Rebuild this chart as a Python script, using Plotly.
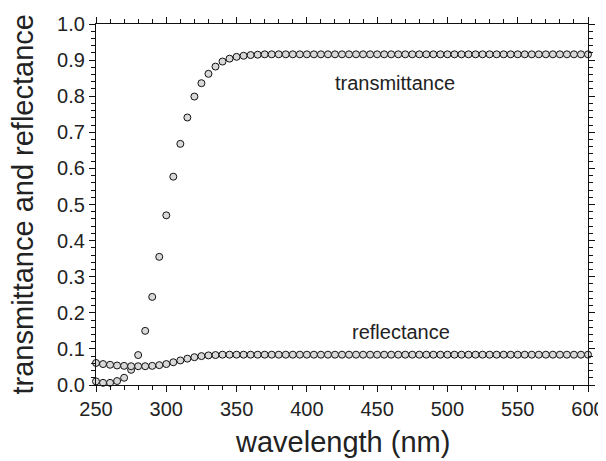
import plotly.graph_objects as go

wavelength = list(range(250, 605, 5))

transmittance = [
    0.010, 0.006, 0.006, 0.011, 0.020, 0.042, 0.083, 0.150, 0.244, 0.355,
    0.470, 0.577, 0.668, 0.741, 0.799, 0.836, 0.862, 0.882, 0.896, 0.904,
    0.909, 0.912, 0.914, 0.915, 0.916, 0.916, 0.916, 0.916, 0.916, 0.916,
    0.916, 0.916, 0.916, 0.916, 0.916, 0.916, 0.916, 0.916, 0.916, 0.916,
    0.916, 0.916, 0.916, 0.916, 0.916, 0.916, 0.916, 0.916, 0.916, 0.916,
    0.916, 0.916, 0.916, 0.916, 0.916, 0.916, 0.916, 0.916, 0.916, 0.916,
    0.916, 0.916, 0.916, 0.916, 0.916, 0.916, 0.916, 0.916, 0.916, 0.916,
    0.916,
]

reflectance = [
    0.061, 0.058, 0.056, 0.054, 0.053, 0.052, 0.052, 0.052, 0.053, 0.055,
    0.058, 0.063, 0.068, 0.073, 0.077, 0.080, 0.082, 0.083, 0.084, 0.084,
    0.084, 0.084, 0.084, 0.084, 0.084, 0.084, 0.084, 0.084, 0.084, 0.084,
    0.084, 0.084, 0.084, 0.084, 0.084, 0.084, 0.084, 0.084, 0.084, 0.084,
    0.084, 0.084, 0.084, 0.084, 0.084, 0.084, 0.084, 0.084, 0.084, 0.084,
    0.084, 0.084, 0.084, 0.084, 0.084, 0.084, 0.084, 0.084, 0.084, 0.084,
    0.084, 0.084, 0.084, 0.084, 0.084, 0.084, 0.084, 0.084, 0.084, 0.084,
    0.084,
]

x_ticks = [250, 300, 350, 400, 450, 500, 550, 600]
y_ticks = [0.0, 0.1, 0.2, 0.3, 0.4, 0.5, 0.6, 0.7, 0.8, 0.9, 1.0]

font_family = "Liberation Sans, Arial, sans-serif"
text_color = "#222222"
marker = dict(symbol="circle", size=7, color="#d9d9d9",
              line=dict(color="#111111", width=1))

fig = go.Figure()
fig.add_trace(go.Scatter(x=wavelength, y=transmittance, mode="markers",
                         marker=marker, name="transmittance", cliponaxis=False))
fig.add_trace(go.Scatter(x=wavelength, y=reflectance, mode="markers",
                         marker=marker, name="reflectance", cliponaxis=False))

fig.add_annotation(x=463, y=0.837, text="transmittance", showarrow=False,
                   font=dict(family=font_family, size=20, color=text_color))
fig.add_annotation(x=467, y=0.146, text="reflectance", showarrow=False,
                   font=dict(family=font_family, size=20, color=text_color))

# axis titles as paper-positioned text
fig.add_annotation(xref="paper", yref="paper", x=0.5, y=0, yshift=-57,
                   yanchor="middle", xanchor="center", text="wavelength (nm)",
                   showarrow=False,
                   font=dict(family=font_family, size=29, color=text_color))
fig.add_annotation(xref="paper", yref="paper", x=0, xshift=-74, y=0.5,
                   xanchor="center", yanchor="middle", textangle=-90,
                   text="transmittance and reflectance", showarrow=False,
                   font=dict(family=font_family, size=29, color=text_color))

axis_common = dict(
    showline=True, linecolor="#111111", linewidth=1.2, mirror="allticks",
    ticks="outside", ticklen=6, tickwidth=1.2, tickcolor="#111111",
    showgrid=False, zeroline=False, automargin=False,
    tickfont=dict(family=font_family, size=20, color=text_color),
)

fig.update_xaxes(
    range=[250, 600], tickvals=x_ticks, ticktext=[str(v) for v in x_ticks],
    minor=dict(dtick=10, ticks="outside", ticklen=3.5, tickwidth=1, tickcolor="#111111"),
    **axis_common,
)
fig.update_yaxes(
    range=[0, 1.0], tickvals=y_ticks, ticktext=[f"{v:.1f}" for v in y_ticks],
    minor=dict(dtick=0.02, ticks="outside", ticklen=3.5, tickwidth=1, tickcolor="#111111"),
    **axis_common,
)

# the page body has an 8px default margin, so the figure is sized to compensate
fig.update_layout(
    width=598, height=453,
    margin=dict(l=88, r=18, t=16, b=76),
    paper_bgcolor="white", plot_bgcolor="white",
    showlegend=False,
)

fig.write_html("out.html")
